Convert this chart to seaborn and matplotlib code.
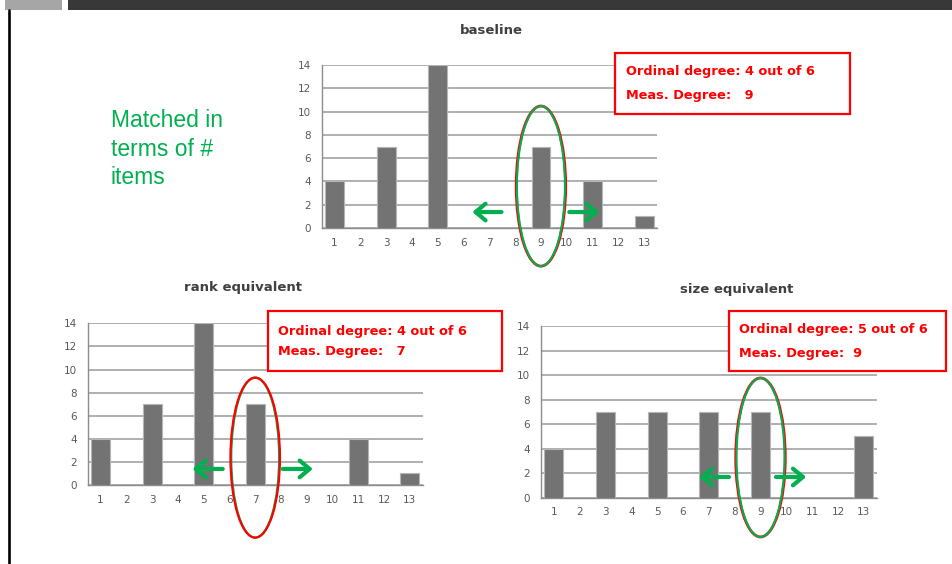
import numpy as np
import pandas as pd
import seaborn as sns
import matplotlib.pyplot as plt
from matplotlib.patches import Ellipse, Rectangle
from matplotlib.lines import Line2D

# ---- data -------------------------------------------------------------
categories = list(range(1, 14))
baseline = [4, 0, 7, 0, 14, 0, 0, 0, 7, 0, 4, 0, 1]
rank_equivalent = [4, 0, 7, 0, 14, 0, 7, 0, 0, 0, 4, 0, 1]
size_equivalent = [4, 0, 7, 0, 7, 0, 7, 0, 7, 0, 0, 0, 5]
y_ticks = [0, 2, 4, 6, 8, 10, 12, 14]

panel_titles = ["baseline", "rank equivalent", "size equivalent"]
highlighted = [9, 7, 9]          # bin circled in each panel
box_lines = [
    ("Ordinal degree: 4 out of 6", "Meas. Degree:   9"),
    ("Ordinal degree: 4 out of 6", "Meas. Degree:   7"),
    ("Ordinal degree: 5 out of 6", "Meas. Degree:  9"),
]
note_lines = ["Matched in", "terms of #", "items"]

# ---- style ------------------------------------------------------------
sns.set_theme(style="white")
plt.rcParams["font.family"] = ["DejaVu Sans"]

W, H = 952, 564
fig = plt.figure(figsize=(W / 100, H / 100), dpi=100)
fig.patch.set_facecolor("white")

BAR = "#737373"
GRID = "#a9a9a9"
AXIS = "#8c8c8c"
TICK_TXT = "#595959"
RED = "#ff0000"
GREEN = "#00b050"


def fx(x):
    return x / W


def fy(y):
    return 1 - y / H


def px_axes(left, right, top, bottom):
    return fig.add_axes([fx(left), fy(bottom), (right - left) / W, (bottom - top) / H])


def draw_panel(ax, values, hl, ell, arrows, red_on_top):
    df = pd.DataFrame({"bin": categories, "count": values})
    sns.barplot(data=df, x="bin", y="count", color=BAR, saturation=1,
                width=0.73, edgecolor="#b5b5b5", linewidth=0.8, ax=ax, zorder=3)
    ax.set_xlim(-0.5, len(categories) - 0.5)
    ax.set_ylim(0, 14)
    ax.set_yticks(y_ticks)
    ax.set_xlabel("")
    ax.set_ylabel("")
    ax.yaxis.grid(True, color=GRID, lw=1.3)
    ax.set_axisbelow(True)
    for s in ("top", "right"):
        ax.spines[s].set_visible(False)
    for s in ("left", "bottom"):
        ax.spines[s].set_color(AXIS)
        ax.spines[s].set_linewidth(1.0)
    ax.set_facecolor("none")
    ax.tick_params(axis="x", which="major", length=0, pad=7,
                   labelsize=7.5, labelcolor=TICK_TXT)
    ax.set_xticks(np.arange(-0.5, len(categories), 1), minor=True)
    ax.tick_params(axis="x", which="minor", length=4, width=0.9,
                   color=AXIS, direction="out")
    ax.tick_params(axis="y", length=3, width=0.9, color=AXIS,
                   direction="out", labelsize=7.5, labelcolor=TICK_TXT, pad=5)

    # circle around the highlighted bin
    xi = categories.index(hl)
    ecy, eh, ew = ell
    order = [(GREEN, 1.6, 0.0), (RED, 1.6, 0.06)] if red_on_top else \
            [(RED, 2.0, 0.06), (GREEN, 1.5, 0.0)]
    for col, lw, dw in order:
        ax.add_patch(Ellipse((xi, ecy), width=ew + dw, height=eh, fill=False,
                             edgecolor=col, lw=lw, clip_on=False, zorder=6))

    # arrows on either side of it
    ay, l_tail, l_tip, r_tail, r_tip = arrows
    for tail, tip in ((l_tail, l_tip), (r_tail, r_tip)):
        ax.annotate("", xy=(xi + tip, ay), xytext=(xi + tail, ay),
                    arrowprops=dict(arrowstyle="->,head_length=0.6,head_width=0.5",
                                    color=GREEN, lw=3.0, shrinkA=0, shrinkB=0),
                    annotation_clip=False, zorder=7)


def red_box(left, right, top, bottom, lines, text_x, line_y):
    fig.add_artist(Rectangle((fx(left), fy(bottom)), (right - left) / W, (bottom - top) / H,
                             transform=fig.transFigure, facecolor="white",
                             edgecolor=RED, lw=1.6, zorder=10))
    for txt, y in zip(lines, line_y):
        fig.text(fx(text_x), fy(y), txt, color=RED, fontsize=9.3, fontweight="bold",
                 va="center", ha="left", zorder=11)


# ---- panels -----------------------------------------------------------
ax1 = px_axes(321.7, 657, 65, 228)
draw_panel(ax1, baseline, highlighted[0], (3.6, 13.75, 1.86),
           (1.37, -1.53, -2.66, 1.1, 2.27), red_on_top=False)

ax2 = px_axes(87.7, 422.7, 323.3, 485)
draw_panel(ax2, rank_equivalent, highlighted[1], (2.37, 13.85, 1.86),
           (1.39, -1.26, -2.43, 1.07, 2.24), red_on_top=True)

ax3 = px_axes(541, 876.7, 326, 497.7)
draw_panel(ax3, size_equivalent, highlighted[2], (3.28, 12.96, 1.86),
           (1.69, -1.22, -2.38, 0.6, 1.77), red_on_top=False)

# titles
for title, (x, y) in zip(panel_titles, [(491, 30), (243, 287), (737, 289)]):
    fig.text(fx(x), fy(y), title, ha="center", va="center", fontsize=9.5,
             fontweight="bold", color="#404040")

# annotation boxes
red_box(615, 850, 53, 114, box_lines[0], 626, (72, 95))
red_box(268, 502, 311, 371, box_lines[1], 278, (332, 352))
red_box(729, 946, 311, 371, box_lines[2], 739, (330, 353))

# side note, one line at a time
for i, line in enumerate(note_lines):
    fig.text(fx(111), fy(127 + 28.5 * i), line, color=GREEN, fontsize=16.5,
             ha="left", va="baseline", family=["Liberation Sans", "DejaVu Sans"])

# slide header strip and left rule
fig.add_artist(Rectangle((fx(5), fy(10)), 57 / W, 10 / H, transform=fig.transFigure,
                         facecolor="#a6a6a6", edgecolor="none", zorder=12))
fig.add_artist(Rectangle((fx(68), fy(10)), (W - 68) / W, 10 / H, transform=fig.transFigure,
                         facecolor="#383838", edgecolor="none", zorder=12))
fig.add_artist(Line2D([fx(8.5), fx(8.5)], [fy(10), 0], transform=fig.transFigure,
                      color="black", lw=1.9, zorder=12))

fig.savefig("out.png", dpi=100)
